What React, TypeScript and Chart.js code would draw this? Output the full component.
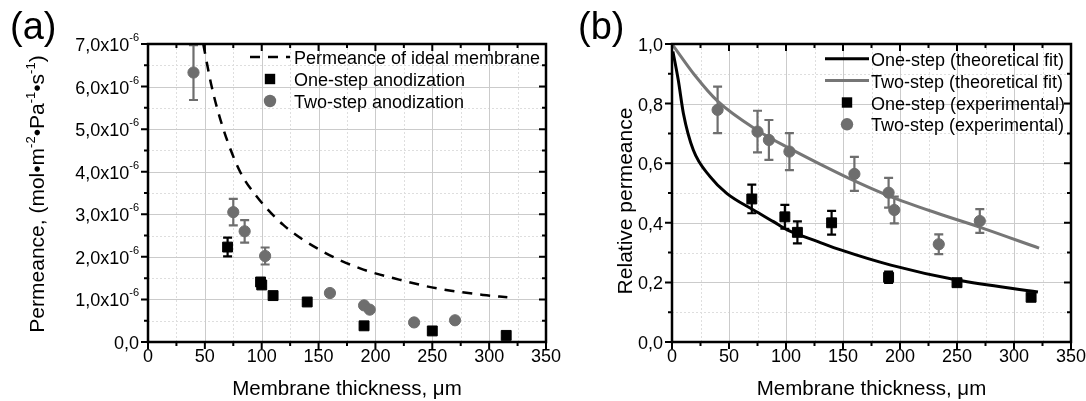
import React, { useEffect, useRef } from "react";
import { Chart, registerables } from "chart.js";

Chart.register(...registerables);

const FONT = '"Liberation Sans", Arial, Helvetica, sans-serif';
const BLACK = "#000000";
const GRAY = "#6e6e6e";
const GRAY_LINE = "#767676";

// ---------------- shared x axis ----------------
const xMajorTicks = [0, 50, 100, 150, 200, 250, 300, 350];
const xMinorTicks = [25, 75, 125, 175, 225, 275, 325];
const xTickLabels = ["0", "50", "100", "150", "200", "250", "300", "350"];
const xAxisTitle = "Membrane thickness, \u03bcm";

// ---------------- panel (a) ----------------
const aYMajorTicks = [0, 1e-6, 2e-6, 3e-6, 4e-6, 5e-6, 6e-6, 7e-6];
const aYMinorTicks = [0.5e-6, 1.5e-6, 2.5e-6, 3.5e-6, 4.5e-6, 5.5e-6, 6.5e-6];
const aYTickMantissas = ["0,0", "1,0x10", "2,0x10", "3,0x10", "4,0x10", "5,0x10", "6,0x10", "7,0x10"];
const aYTickExponents = ["", "-6", "-6", "-6", "-6", "-6", "-6", "-6"];

const idealThickness = [48.6, 56, 66.3, 81, 95.6, 119, 154, 186.5, 221.6, 254, 295, 316];
const idealPermeance = [7.0e-6, 6.0e-6, 5.0e-6, 4.0e-6, 3.42e-6, 2.75e-6, 2.12e-6, 1.73e-6, 1.46e-6, 1.26e-6, 1.105e-6, 1.05e-6];

const oneStepThicknessA = [70, 99, 100, 110, 140, 190, 250, 315];
const oneStepPermeance = [2.23e-6, 1.41e-6, 1.34e-6, 1.09e-6, 0.94e-6, 0.38e-6, 0.26e-6, 0.155e-6];
const oneStepPermeanceErr = [0.22e-6, 0.05e-6, 0.05e-6, 0.06e-6, 0.05e-6, 0.05e-6, 0.04e-6, 0.06e-6];

const twoStepThicknessA = [40, 75, 85, 103, 160, 190, 195, 234, 270];
const twoStepPermeance = [6.33e-6, 3.05e-6, 2.6e-6, 2.02e-6, 1.15e-6, 0.86e-6, 0.76e-6, 0.46e-6, 0.51e-6];
const twoStepPermeanceErr = [0.645e-6, 0.31e-6, 0.265e-6, 0.2e-6, 0.05e-6, 0.03e-6, 0.03e-6, 0.04e-6, 0.05e-6];

// ---------------- panel (b) ----------------
const bYMajorTicks = [0, 0.2, 0.4, 0.6, 0.8, 1.0];
const bYMinorTicks = [0.1, 0.3, 0.5, 0.7, 0.9];
const bYTickLabels = ["0,0", "0,2", "0,4", "0,6", "0,8", "1,0"];

const oneStepFitX = [0.8, 5.5, 10, 18.7, 33.4, 48, 71.5, 89, 101, 128, 148, 192, 250, 321];
const oneStepFitY = [0.975, 0.879, 0.767, 0.644, 0.555, 0.499, 0.443, 0.404, 0.376, 0.337, 0.309, 0.258, 0.208, 0.168];
const twoStepFitX = [0, 20, 40, 75, 104, 136, 162, 191, 236, 271, 322];
const twoStepFitY = [1.0, 0.895, 0.808, 0.71, 0.648, 0.585, 0.537, 0.489, 0.428, 0.384, 0.315];

const oneStepThicknessB = [70, 99, 110, 140, 190, 250, 315];
const oneStepRelative = [0.48, 0.42, 0.368, 0.4, 0.217, 0.199, 0.15];
const oneStepRelativeErr = [0.048, 0.04, 0.037, 0.04, 0.019, 0.012, 0.008];

const twoStepThicknessB = [40, 75, 85, 103, 160, 190, 195, 234, 270];
const twoStepRelative = [0.779, 0.706, 0.678, 0.639, 0.564, 0.501, 0.443, 0.328, 0.406];
const twoStepRelativeErr = [0.078, 0.07, 0.067, 0.062, 0.057, 0.05, 0.045, 0.033, 0.04];

// ---------------- helpers ----------------
type Seg = { t: string; sup?: boolean };

const zip = (xs: number[], ys: number[]) => xs.map((x, i) => ({ x, y: ys[i] }));

function drawRich(
  ctx: CanvasRenderingContext2D,
  segs: Seg[],
  x: number,
  y: number,
  size: number,
  supSize: number,
  supRise: number,
  align: "left" | "right" | "center"
) {
  const widths = segs.map((s) => {
    ctx.font = `${s.sup ? supSize : size}px ${FONT}`;
    return ctx.measureText(s.t).width;
  });
  const total = widths.reduce((a, b) => a + b, 0);
  let cx = align === "left" ? x : align === "right" ? x - total : x - total / 2;
  ctx.textAlign = "left";
  ctx.textBaseline = "alphabetic";
  segs.forEach((s, i) => {
    ctx.font = `${s.sup ? supSize : size}px ${FONT}`;
    ctx.fillText(s.t, cx, s.sup ? y - supRise : y);
    cx += widths[i];
  });
}

interface PanelCfg {
  offsetX: number;
  xMajor: number[];
  xMinor: number[];
  xLabels: string[];
  yMajor: number[];
  yMinor: number[];
  yLabels: Seg[][];
  yTitle: Seg[];
  yTitleX: number;
  yTitleY: number;
  panelLabel: string;
  panelLabelX: number;
  errors: (number[] | null)[];
  legend: { sampleLeft: number; sampleRight: number; textX: number; rows: number[]; items: number[] };
}

function makePanelPlugin(cfg: PanelCfg) {
  return {
    id: "panelDecor",
    beforeDatasetsDraw(chart: any) {
      const { ctx, chartArea: a, scales } = chart;
      const xs = scales.x;
      const ys = scales.y;
      ctx.save();
      // minor grid
      ctx.strokeStyle = "#dedede";
      ctx.lineWidth = 1;
      ctx.setLineDash([2, 2]);
      ctx.beginPath();
      cfg.xMinor.forEach((v) => {
        const p = Math.round(xs.getPixelForValue(v)) + 0.5;
        ctx.moveTo(p, a.top);
        ctx.lineTo(p, a.bottom);
      });
      cfg.yMinor.forEach((v) => {
        const p = Math.round(ys.getPixelForValue(v)) + 0.5;
        ctx.moveTo(a.left, p);
        ctx.lineTo(a.right, p);
      });
      ctx.stroke();
      // major grid
      ctx.setLineDash([]);
      ctx.strokeStyle = "#cbcbcb";
      ctx.beginPath();
      cfg.xMajor.forEach((v) => {
        const p = Math.round(xs.getPixelForValue(v)) + 0.5;
        ctx.moveTo(p, a.top);
        ctx.lineTo(p, a.bottom);
      });
      cfg.yMajor.forEach((v) => {
        const p = Math.round(ys.getPixelForValue(v)) + 0.5;
        ctx.moveTo(a.left, p);
        ctx.lineTo(a.right, p);
      });
      ctx.stroke();
      // error bars
      chart.data.datasets.forEach((ds: any, i: number) => {
        const errs = cfg.errors[i];
        if (!errs) return;
        ctx.strokeStyle = ds.backgroundColor;
        ctx.lineWidth = 2.2;
        ds.data.forEach((pt: any, j: number) => {
          const e = errs[j];
          if (!e) return;
          const px = xs.getPixelForValue(pt.x);
          const yt = ys.getPixelForValue(pt.y + e);
          const yb = ys.getPixelForValue(pt.y - e);
          ctx.beginPath();
          ctx.moveTo(px, yt);
          ctx.lineTo(px, yb);
          ctx.moveTo(px - 4.5, yt);
          ctx.lineTo(px + 4.5, yt);
          ctx.moveTo(px - 4.5, yb);
          ctx.lineTo(px + 4.5, yb);
          ctx.stroke();
        });
      });
      ctx.restore();
    },
    afterDraw(chart: any) {
      const { ctx, chartArea: a, scales } = chart;
      const xs = scales.x;
      const ys = scales.y;
      ctx.save();
      ctx.setLineDash([]);
      // frame
      ctx.strokeStyle = BLACK;
      ctx.lineWidth = 2.5;
      ctx.strokeRect(a.left, a.top, a.right - a.left, a.bottom - a.top);
      // ticks
      ctx.lineWidth = 2;
      ctx.beginPath();
      const tickX = (v: number, len: number) => {
        const p = xs.getPixelForValue(v);
        ctx.moveTo(p, a.bottom);
        ctx.lineTo(p, a.bottom + len);
        ctx.moveTo(p, a.top);
        ctx.lineTo(p, a.top + len);
      };
      const tickY = (v: number, len: number) => {
        const p = ys.getPixelForValue(v);
        ctx.moveTo(a.left, p);
        ctx.lineTo(a.left - len, p);
        ctx.moveTo(a.right, p);
        ctx.lineTo(a.right - len, p);
      };
      cfg.xMajor.forEach((v) => tickX(v, 7));
      cfg.xMinor.forEach((v) => tickX(v, 4));
      cfg.yMajor.forEach((v) => tickY(v, 7));
      cfg.yMinor.forEach((v) => tickY(v, 4));
      ctx.stroke();

      ctx.fillStyle = BLACK;
      // x tick labels
      ctx.font = `18px ${FONT}`;
      ctx.textAlign = "center";
      ctx.textBaseline = "alphabetic";
      cfg.xMajor.forEach((v, i) => {
        ctx.fillText(cfg.xLabels[i], xs.getPixelForValue(v), a.bottom + 20);
      });
      // y tick labels
      cfg.yMajor.forEach((v, i) => {
        drawRich(ctx, cfg.yLabels[i], a.left - 9, ys.getPixelForValue(v) + 7, 18, 11, 10, "right");
      });
      // x title
      ctx.font = `20.5px ${FONT}`;
      ctx.textAlign = "center";
      ctx.fillText(xAxisTitle, (a.left + a.right) / 2, a.bottom + 53);
      // y title
      ctx.save();
      ctx.translate(cfg.yTitleX - cfg.offsetX, cfg.yTitleY);
      ctx.rotate(-Math.PI / 2);
      drawRich(ctx, cfg.yTitle, 0, 0, 21, 13, 9, "center");
      ctx.restore();
      // panel label
      ctx.font = `38px ${FONT}`;
      ctx.textAlign = "left";
      ctx.textBaseline = "alphabetic";
      ctx.fillText(cfg.panelLabel, cfg.panelLabelX - cfg.offsetX, 39);

      // legend
      const L = cfg.legend;
      const sl = L.sampleLeft - cfg.offsetX;
      const sr = L.sampleRight - cfg.offsetX;
      const tx = L.textX - cfg.offsetX;
      L.items.forEach((di, r) => {
        const ds = chart.data.datasets[di];
        const yy = L.rows[r];
        if (ds.showLine) {
          ctx.strokeStyle = ds.borderColor;
          ctx.lineWidth = ds.borderWidth;
          ctx.setLineDash(ds.borderDash || []);
          ctx.beginPath();
          ctx.moveTo(sl, yy);
          ctx.lineTo(sr, yy);
          ctx.stroke();
          ctx.setLineDash([]);
        } else {
          const cx = (sl + sr) / 2;
          ctx.fillStyle = ds.backgroundColor;
          if (ds.pointStyle === "rect") {
            ctx.fillRect(cx - 5.2, yy - 5.2, 10.4, 10.4);
          } else {
            ctx.beginPath();
            ctx.arc(cx, yy, 6.2, 0, Math.PI * 2);
            ctx.fill();
          }
        }
        ctx.fillStyle = BLACK;
        ctx.font = `18px ${FONT}`;
        ctx.textAlign = "left";
        ctx.fillText(ds.label, tx, yy + 7);
      });
      ctx.restore();
    },
  };
}

function lineDs(label: string, xs: number[], ys: number[], color: string, width: number, dash: number[], order: number) {
  return {
    type: "line" as const,
    label,
    data: zip(xs, ys),
    showLine: true,
    borderColor: color,
    backgroundColor: color,
    borderWidth: width,
    borderDash: dash,
    pointRadius: 0,
    pointHoverRadius: 0,
    cubicInterpolationMode: "monotone" as const,
    fill: false,
    order,
  };
}

function pointDs(label: string, xs: number[], ys: number[], color: string, style: "rect" | "circle", order: number) {
  return {
    type: "scatter" as const,
    label,
    data: zip(xs, ys),
    showLine: false,
    pointStyle: style,
    backgroundColor: color,
    borderColor: color,
    pointBorderWidth: 1,
    pointRadius: style === "rect" ? 7 : 5.6,
    pointHoverRadius: style === "rect" ? 7 : 5.6,
    order,
  };
}

function buildChart(canvas: HTMLCanvasElement, datasets: any[], yMin: number, yMax: number, padding: any, cfg: PanelCfg) {
  return new Chart(canvas, {
    type: "scatter",
    data: { datasets },
    options: {
      responsive: false,
      animation: false,
      devicePixelRatio: 1,
      layout: { padding },
      plugins: { legend: { display: false }, tooltip: { enabled: false } },
      events: [],
      scales: {
        x: { type: "linear", min: 0, max: 350, display: false },
        y: { type: "linear", min: yMin, max: yMax, display: false },
      },
    } as any,
    plugins: [makePanelPlugin(cfg) as any],
  });
}

const PLOT_TOP = 44;
const PLOT_BOTTOM = 342;
const H = 401;
const LEFT_W = 565;
const RIGHT_W = 1086 - LEFT_W;

export default function App() {
  const leftRef = useRef<HTMLCanvasElement>(null);
  const rightRef = useRef<HTMLCanvasElement>(null);

  useEffect(() => {
    const cfgA: PanelCfg = {
      offsetX: 0,
      xMajor: xMajorTicks,
      xMinor: xMinorTicks,
      xLabels: xTickLabels,
      yMajor: aYMajorTicks,
      yMinor: aYMinorTicks,
      yLabels: aYTickMantissas.map((m, i) => (aYTickExponents[i] ? [{ t: m }, { t: aYTickExponents[i], sup: true }] : [{ t: m }])),
      yTitle: [
        { t: "Permeance, (mol\u2022m" },
        { t: "-2", sup: true },
        { t: "\u2022Pa" },
        { t: "-1", sup: true },
        { t: "\u2022s" },
        { t: "-1", sup: true },
        { t: ")" },
      ],
      yTitleX: 44,
      yTitleY: 194,
      panelLabel: "(a)",
      panelLabelX: 10,
      errors: [null, oneStepPermeanceErr, twoStepPermeanceErr],
      legend: { sampleLeft: 250, sampleRight: 290, textX: 294, rows: [57, 79, 101], items: [0, 1, 2] },
    };
    const dsA = [
      lineDs("Permeance of ideal membrane", idealThickness, idealPermeance, BLACK, 2.5, [10, 8], 3),
      pointDs("One-step anodization", oneStepThicknessA, oneStepPermeance, BLACK, "rect", 1),
      pointDs("Two-step anodization", twoStepThicknessA, twoStepPermeance, GRAY, "circle", 0),
    ];
    const chartA = buildChart(
      leftRef.current!,
      dsA,
      0,
      7e-6,
      { left: 148, right: LEFT_W - 546, top: PLOT_TOP, bottom: H - PLOT_BOTTOM },
      cfgA
    );

    const cfgB: PanelCfg = {
      offsetX: LEFT_W,
      xMajor: xMajorTicks,
      xMinor: xMinorTicks,
      xLabels: xTickLabels,
      yMajor: bYMajorTicks,
      yMinor: bYMinorTicks,
      yLabels: bYTickLabels.map((t) => [{ t }]),
      yTitle: [{ t: "Relative permeance" }],
      yTitleX: 632,
      yTitleY: 201,
      panelLabel: "(b)",
      panelLabelX: 578,
      errors: [null, null, oneStepRelativeErr, twoStepRelativeErr],
      legend: { sampleLeft: 825, sampleRight: 869, textX: 871, rows: [58.7, 80.5, 102.5, 124.3], items: [0, 1, 2, 3] },
    };
    const dsB = [
      lineDs("One-step (theoretical fit)", oneStepFitX, oneStepFitY, BLACK, 3, [], 3),
      lineDs("Two-step (theoretical fit)", twoStepFitX, twoStepFitY, GRAY_LINE, 3, [], 2),
      pointDs("One-step (experimental)", oneStepThicknessB, oneStepRelative, BLACK, "rect", 1),
      pointDs("Two-step (experimental)", twoStepThicknessB, twoStepRelative, GRAY, "circle", 0),
    ];
    const chartB = buildChart(
      rightRef.current!,
      dsB,
      0,
      1,
      { left: 672 - LEFT_W, right: 1086 - 1071, top: PLOT_TOP, bottom: H - PLOT_BOTTOM },
      cfgB
    );

    return () => {
      chartA.destroy();
      chartB.destroy();
    };
  }, []);

  return (
    <div style={{ position: "fixed", left: 0, top: 0, width: 1086, height: H, background: "#ffffff" }}>
      <canvas ref={leftRef} width={LEFT_W} height={H} style={{ position: "absolute", left: 0, top: 0, width: LEFT_W, height: H }} />
      <canvas ref={rightRef} width={RIGHT_W} height={H} style={{ position: "absolute", left: LEFT_W, top: 0, width: RIGHT_W, height: H }} />
    </div>
  );
}
